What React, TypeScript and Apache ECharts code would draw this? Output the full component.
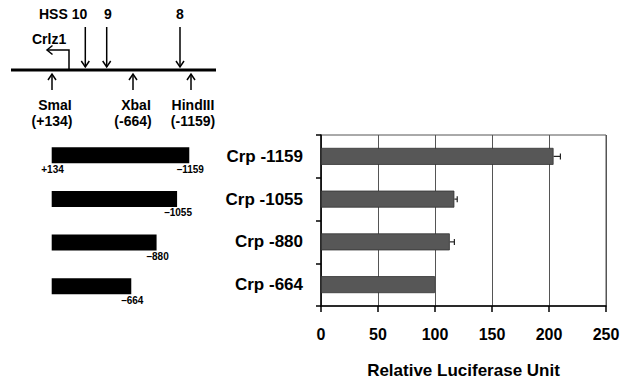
import React, { useEffect, useRef } from "react";
import * as echarts from "echarts";

const categories = ["Crp -1159", "Crp -1055", "Crp -880", "Crp -664"];
const luciferase = [204, 117, 113, 100];
const errors = [6, 2.5, 4, 0];
const xMin = 0;
const xMax = 250;
const xInterval = 50;

const constructStart = 134;
const constructEnds = [-1159, -1055, -880, -664];

const hssLabels = ["HSS 10", "9", "8"];
const siteNames = ["SmaI", "XbaI", "HindIII"];
const sitePositions = ["(+134)", "(-664)", "(-1159)"];
const promoterName = "Crlz1";

const FONT = "'Liberation Sans', Arial, Helvetica, sans-serif";

function arrowDown(x: number, y1: number, y2: number) {
  return [
    { type: "line", shape: { x1: x, y1, x2: x, y2 }, style: { stroke: "#000", lineWidth: 1.5 } },
    {
      type: "polyline",
      shape: { points: [[x - 4, y2 - 6], [x, y2], [x + 4, y2 - 6]] },
      style: { stroke: "#000", lineWidth: 1.5, fill: "none" },
    },
  ];
}
function arrowUp(x: number, y1: number, y2: number) {
  return [
    { type: "line", shape: { x1: x, y1, x2: x, y2 }, style: { stroke: "#000", lineWidth: 1.5 } },
    {
      type: "polyline",
      shape: { points: [[x - 4, y1 + 6], [x, y1], [x + 4, y1 + 6]] },
      style: { stroke: "#000", lineWidth: 1.5, fill: "none" },
    },
  ];
}
function txt(text: string, x: number, y: number, size: number, weight: string, align = "center") {
  return {
    type: "text",
    x,
    y,
    style: {
      text,
      fontSize: size,
      fontWeight: weight,
      fontFamily: FONT,
      fill: "#000",
      align,
      verticalAlign: "middle",
    },
  };
}

export default function App() {
  const ref = useRef<HTMLDivElement>(null);
  useEffect(() => {
    if (!ref.current) return;
    const chart = echarts.init(ref.current, null, { renderer: "svg" });

    const lengths = constructEnds.map((e) => constructStart - e);
    const hssX = [85.3, 106.7, 180];
    const siteX = [52, 133, 191];

    const graphic: any[] = [
      { type: "line", shape: { x1: 11, y1: 70, x2: 216, y2: 70 }, style: { stroke: "#000", lineWidth: 3 } },
      {
        type: "polyline",
        shape: { points: [[69, 69], [69, 50], [47, 50]] },
        style: { stroke: "#000", lineWidth: 1.5, fill: "none" },
      },
      {
        type: "polyline",
        shape: { points: [[52.5, 45.5], [47, 50], [52.5, 54.5]] },
        style: { stroke: "#000", lineWidth: 1.5, fill: "none" },
      },
      txt(promoterName, 32, 39, 14, "bold", "left"),
      txt(hssLabels[0], 39, 14, 14, "bold", "left"),
      txt(hssLabels[1], 108, 14, 14, "bold"),
      txt(hssLabels[2], 180, 14, 14, "bold"),
      ...hssX.flatMap((x) => arrowDown(x, 27, 67)),
      ...siteX.flatMap((x) => arrowUp(x, 74, 90)),
      txt(siteNames[0], 55, 105, 14, "bold"),
      txt(sitePositions[0], 52, 120.5, 14, "bold"),
      txt(siteNames[1], 136, 105, 14, "bold"),
      txt(sitePositions[1], 133, 120.5, 14, "bold"),
      txt(siteNames[2], 193, 105, 14, "bold"),
      txt(sitePositions[2], 193, 120.5, 14, "bold"),
      txt("+" + constructStart, 52.5, 169.5, 10, "bold"),
    ];

    chart.setOption({
      animation: false,
      graphic,
      grid: [
        {
          left: 321,
          top: 135,
          width: 285,
          height: 171,
          show: true,
          borderColor: "#555",
          borderWidth: 1,
          backgroundColor: "transparent",
        },
        { left: 51.7, top: 133.5, width: 138.4, height: 174.5 },
      ],
      xAxis: [
        {
          type: "value",
          gridIndex: 0,
          min: xMin,
          max: xMax,
          interval: xInterval,
          axisLine: { show: true, lineStyle: { color: "#000", width: 1.5 } },
          axisTick: { show: true, length: 6, lineStyle: { color: "#000", width: 1.5 } },
          splitLine: { show: true, lineStyle: { color: "#555", width: 1 } },
          axisLabel: { color: "#000", fontSize: 16, fontWeight: "bold", fontFamily: FONT, margin: 20 },
          name: "Relative Luciferase Unit",
          nameLocation: "middle",
          nameGap: 56,
          nameTextStyle: { color: "#000", fontSize: 17, fontWeight: "bold", fontFamily: FONT },
        },
        {
          type: "value",
          gridIndex: 1,
          min: 119,
          max: 1300,
          show: false,
        },
      ],
      yAxis: [
        {
          type: "category",
          gridIndex: 0,
          data: categories,
          inverse: true,
          axisLine: { show: true, lineStyle: { color: "#000", width: 1.5 } },
          axisTick: { show: true, length: 5, lineStyle: { color: "#000", width: 1.5 } },
          axisLabel: { color: "#000", fontSize: 17, fontWeight: "bold", fontFamily: FONT, margin: 18 },
        },
        {
          type: "category",
          gridIndex: 1,
          data: categories,
          inverse: true,
          show: false,
        },
      ],
      series: [
        {
          type: "bar",
          xAxisIndex: 0,
          yAxisIndex: 0,
          data: luciferase,
          barWidth: 17,
          itemStyle: { color: "#575757", borderColor: "#333", borderWidth: 0.8 },
        },
        {
          type: "custom",
          xAxisIndex: 0,
          yAxisIndex: 0,
          data: luciferase.map((v, i) => [v, i, errors[i]]),
          encode: { x: 0, y: 1 },
          renderItem: (params: any, api: any) => {
            const v = api.value(0);
            const i = api.value(1);
            const e = api.value(2);
            if (!e) return { type: "group", children: [] };
            const a = api.coord([v, i]);
            const b = api.coord([v + e, i]);
            return {
              type: "group",
              children: [
                { type: "line", shape: { x1: a[0], y1: a[1], x2: b[0], y2: b[1] }, style: { stroke: "#222", lineWidth: 1.2 } },
                { type: "line", shape: { x1: b[0], y1: b[1] - 3, x2: b[0], y2: b[1] + 3 }, style: { stroke: "#222", lineWidth: 1.2 } },
              ],
            };
          },
          z: 5,
        },
        {
          type: "bar",
          xAxisIndex: 1,
          yAxisIndex: 1,
          data: lengths,
          barWidth: 16,
          clip: true,
          itemStyle: { color: "#000" },
          label: {
            show: true,
            position: ["100%", "100%"],
            align: "center",
            verticalAlign: "top",
            offset: [1, 1],
            formatter: (p: any) => "\u2013" + Math.abs(constructEnds[p.dataIndex]),
            fontSize: 10,
            fontWeight: "bold",
            fontFamily: FONT,
            color: "#000",
          },
        },
      ],
    });
    return () => chart.dispose();
  }, []);
  return (
    <div
      ref={ref}
      style={{ position: "fixed", left: 0, top: 0, width: 633, height: 382, background: "#fff" }}
    />
  );
}
